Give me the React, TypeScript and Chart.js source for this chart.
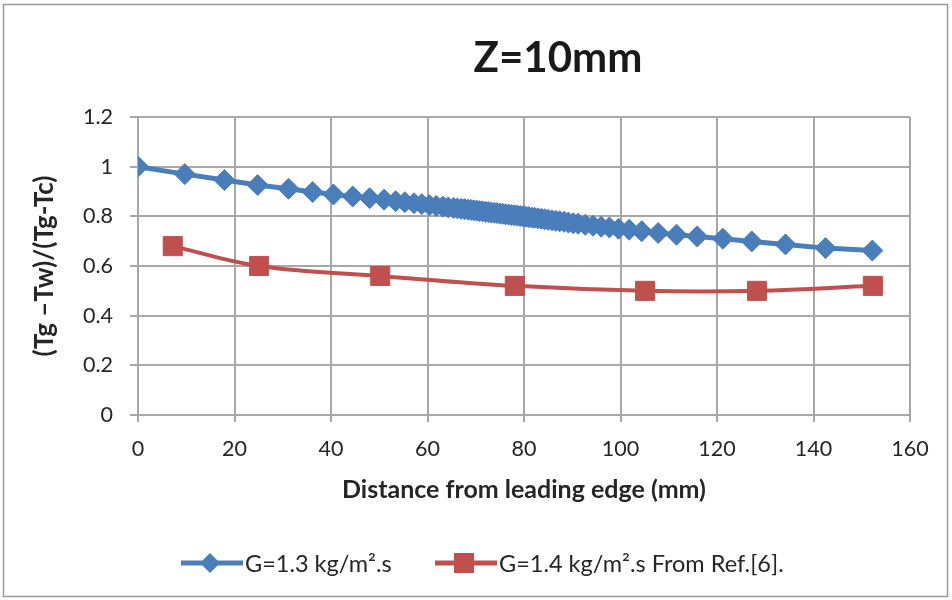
import React, { useEffect, useRef } from "react";
import { Chart, registerables } from "chart.js";

Chart.register(...registerables);

const titleText = "Z=10mm";
const xTitle = "Distance from leading edge (mm)";
const yTitle = "(Tg \u2013Tw)/(Tg-Tc)";

const blueLabel = "G=1.3 kg/m\u00b2.s";
const redLabel = "G=1.4 kg/m\u00b2.s From Ref.[6].";

const blueX = [0, 9.7, 17.9, 24.8, 31.2, 36.2, 40.5, 44.5, 48.0, 51.0, 53.4, 55.3, 57.2, 58.8, 60.4, 61.8, 63.2, 64.3, 65.4, 66.2, 67.0, 67.7, 68.4, 69.0, 69.6, 70.2, 70.8, 71.4, 72.0, 72.6, 73.2, 73.8, 74.4, 75.0, 75.6, 76.2, 76.8, 77.4, 78.0, 78.6, 79.2, 79.8, 80.4, 81.0, 81.6, 82.2, 82.9, 83.6, 84.3, 85.0, 85.8, 86.6, 87.4, 88.3, 89.2, 90.2, 91.2, 92.7, 94.3, 96.0, 97.7, 99.6, 101.8, 104.4, 107.8, 111.6, 115.9, 121.2, 127.2, 134.2, 142.5, 152.2];
const blueY = [1.0, 0.97, 0.946, 0.926, 0.911, 0.898, 0.888, 0.88, 0.873, 0.867, 0.861, 0.857, 0.853, 0.849, 0.845, 0.842, 0.839, 0.836, 0.834, 0.832, 0.83, 0.829, 0.827, 0.826, 0.824, 0.823, 0.821, 0.82, 0.818, 0.817, 0.815, 0.814, 0.813, 0.811, 0.81, 0.808, 0.807, 0.805, 0.804, 0.803, 0.801, 0.8, 0.798, 0.797, 0.795, 0.794, 0.792, 0.79, 0.788, 0.786, 0.784, 0.782, 0.78, 0.778, 0.775, 0.772, 0.77, 0.766, 0.762, 0.758, 0.755, 0.75, 0.746, 0.74, 0.733, 0.726, 0.719, 0.71, 0.699, 0.687, 0.672, 0.662];

const redX = [7.2, 25.1, 50.2, 78.1, 105.1, 128.3, 152.3];
const redY = [0.68, 0.6, 0.56, 0.52, 0.5, 0.5, 0.52];

const BLUE = "#4a7ebb";
const RED = "#c0504d";
const GRID = "#a8a8a8";
const TEXT = "#262626";
const FONT = "Lato, 'Liberation Sans', sans-serif";

const framePlugin = {
  id: "frame",
  beforeDraw(chart: any) {
    const ctx = chart.ctx;
    ctx.save();
    ctx.fillStyle = "#ffffff";
    ctx.fillRect(0, 0, chart.width, chart.height);
    ctx.strokeStyle = "#9a9a9a";
    ctx.lineWidth = 1.5;
    ctx.strokeRect(3.5, 4.5, 944, 592);
    ctx.restore();
  },
  afterDraw(chart: any) {
    const ctx = chart.ctx;
    ctx.save();
    // title
    ctx.fillStyle = "#1a1a1a";
    ctx.font = `bold 42px ${FONT}`;
    ctx.textAlign = "center";
    ctx.textBaseline = "middle";
    ctx.fillText(titleText, 558, 58);
    // legend
    const ly = 563;
    const items = chart.data.datasets.map((d: any, i: number) => ({
      label: d.label,
      color: d.borderColor,
      style: d.pointStyle,
      x0: i === 0 ? 181 : 435,
    }));
    ctx.font = `23.5px ${FONT}`;
    ctx.textAlign = "left";
    items.forEach((it: any) => {
      ctx.strokeStyle = it.color;
      ctx.lineWidth = 5;
      ctx.beginPath();
      ctx.moveTo(it.x0, ly);
      ctx.lineTo(it.x0 + 62, ly);
      ctx.stroke();
      ctx.fillStyle = it.color;
      const cx = it.x0 + 29;
      ctx.beginPath();
      if (it.style === "rectRot") {
        ctx.moveTo(cx, ly - 10);
        ctx.lineTo(cx + 10, ly);
        ctx.lineTo(cx, ly + 10);
        ctx.lineTo(cx - 10, ly);
        ctx.closePath();
      } else {
        ctx.rect(cx - 10, ly - 10, 20, 20);
      }
      ctx.fill();
      ctx.fillStyle = TEXT;
      ctx.fillText(it.label, it.x0 + 64, ly + 1);
    });
    ctx.restore();
  },
};

export default function App() {
  const ref = useRef<HTMLCanvasElement | null>(null);

  useEffect(() => {
    if (!ref.current) return;
    const chart = new Chart(ref.current, {
      type: "line",
      data: {
        datasets: [
          {
            label: blueLabel,
            data: blueX.map((x, i) => ({ x, y: blueY[i] })),
            borderColor: BLUE,
            backgroundColor: BLUE,
            borderWidth: 5,
            pointStyle: "rectRot",
            pointRadius: 10.5,
            pointBorderWidth: 1,
            pointBackgroundColor: BLUE,
            pointBorderColor: BLUE,
            tension: 0,
          },
          {
            label: redLabel,
            data: redX.map((x, i) => ({ x, y: redY[i] })),
            borderColor: RED,
            backgroundColor: RED,
            borderWidth: 4,
            pointStyle: "rect",
            pointRadius: 13.5,
            pointBorderWidth: 1,
            pointBackgroundColor: RED,
            pointBorderColor: RED,
            tension: 0.4,
          },
        ],
      },
      options: {
        animation: false,
        responsive: false,
        layout: { padding: { left: 26, top: 117, right: 42, bottom: 93 } },
        plugins: {
          legend: { display: false },
          title: { display: false },
          tooltip: { enabled: false },
        },
        scales: {
          x: {
            type: "linear",
            min: 0,
            max: 160,
            ticks: {
              stepSize: 20,
              padding: 14,
              color: TEXT,
              font: { family: FONT, size: 21.5 },
              maxRotation: 0,
            },
            grid: { color: GRID, lineWidth: 2, tickLength: 7, drawTicks: true },
            border: { color: GRID, width: 2 },
            title: {
              display: true,
              text: xTitle,
              color: TEXT,
              font: { family: FONT, size: 25, weight: "bold" },
              padding: { top: 4, bottom: 2 },
            },
            afterFit(scale: any) {
              scale.height = 92;
            },
          },
          y: {
            type: "linear",
            min: 0,
            max: 1.2,
            ticks: {
              stepSize: 0.2,
              padding: 17,
              color: TEXT,
              font: { family: FONT, size: 21.5 },
              callback: (v: any) => String(Number(Number(v).toFixed(1))),
            },
            grid: { color: GRID, lineWidth: 2, tickLength: 8, drawTicks: true },
            border: { color: GRID, width: 2 },
            title: {
              display: true,
              text: yTitle,
              color: TEXT,
              font: { family: FONT, size: 26, weight: "bold" },
              padding: { top: 3, bottom: 4 },
            },
            afterFit(scale: any) {
              scale.width = 112;
            },
          },
        },
      },
      plugins: [framePlugin],
    });
    return () => chart.destroy();
  }, []);

  return (
    <div style={{ position: "fixed", left: 0, top: 0, width: 952, height: 600, background: "#fff" }}>
      <canvas ref={ref} width={952} height={600} style={{ display: "block" }} />
    </div>
  );
}
